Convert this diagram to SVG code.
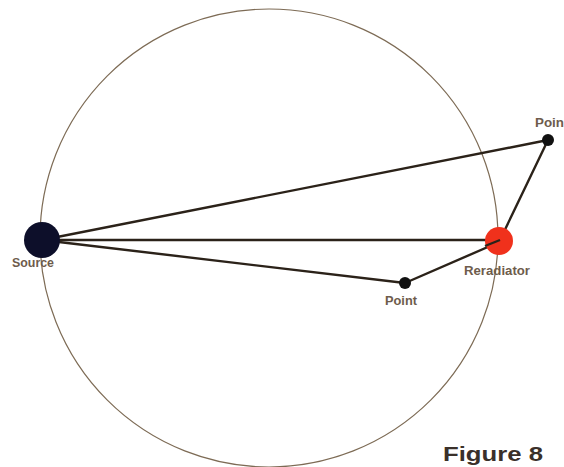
<svg xmlns="http://www.w3.org/2000/svg" width="564" height="467" viewBox="0 0 564 467">
<style>
.lbl{font-family:"Liberation Sans",Arial,sans-serif;font-weight:bold;font-size:12px;fill:#6e5c4c}
.conn line{stroke:#2b2219;stroke-width:2.4;stroke-linecap:round}
.dot{fill:#111}
</style>
<rect width="564" height="467" fill="#ffffff"/>
<circle cx="269" cy="238" r="229" fill="none" stroke="#7d6b55" stroke-width="1.2"/>
<g id="connectors" class="conn">
<line x1="42" y1="240" x2="548" y2="140"/>
<line x1="42" y1="240" x2="499" y2="240"/>
<line x1="42" y1="240" x2="405" y2="283"/>
<line x1="405" y1="283" x2="497" y2="243"/>
<line x1="548" y1="140" x2="500" y2="240"/>
</g>
<g id="source">
<circle cx="42" cy="240" r="18" fill="#0d0f2a"/>
<text class="lbl" x="33" y="267" text-anchor="middle" textLength="42" lengthAdjust="spacingAndGlyphs">Source</text>
</g>
<g id="reradiator">
<circle cx="499" cy="241" r="14" fill="#f0311c"/>
<line x1="485" y1="246" x2="500" y2="240" stroke="#2b2219" stroke-width="2.4"/>
<text class="lbl" x="497" y="275" text-anchor="middle" textLength="66" lengthAdjust="spacingAndGlyphs">Reradiator</text>
</g>
<g id="point-lower">
<circle class="dot" cx="405" cy="283" r="6"/>
<text class="lbl" x="401" y="305" text-anchor="middle" textLength="32" lengthAdjust="spacingAndGlyphs">Point</text>
</g>
<g id="point-upper">
<circle class="dot" cx="548" cy="140" r="6"/>
<text class="lbl" x="535" y="127" textLength="29" lengthAdjust="spacingAndGlyphs">Poin</text>
</g>
<text x="443" y="461" font-family="Liberation Sans,Arial,sans-serif" font-weight="bold" font-size="21" fill="#3a302a" textLength="100" lengthAdjust="spacingAndGlyphs">Figure 8</text>
</svg>
